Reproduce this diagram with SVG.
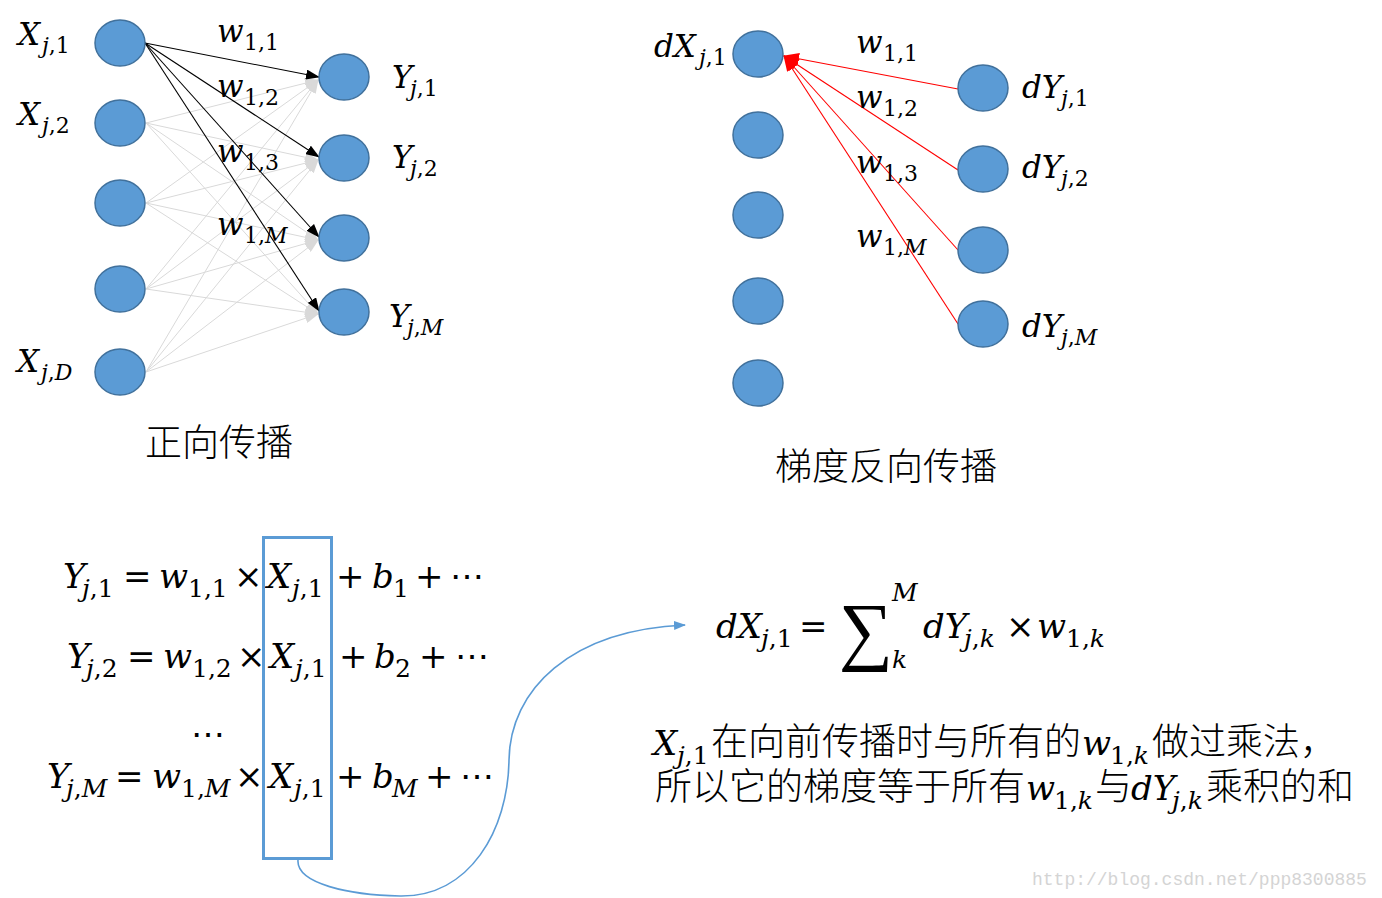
<svg xmlns="http://www.w3.org/2000/svg" width="1382" height="898" viewBox="0 0 1382 898">
<style>
.nd{fill:#5b9bd5;stroke:#41719c;stroke-width:1.5}
.mt{font-family:"DejaVu Serif","Liberation Serif",serif;font-size:34px;fill:#000}
.ml{font-family:"DejaVu Serif","Liberation Serif",serif;font-size:31px;fill:#000}
.it{font-style:italic}
.sb{font-size:25px}
.sl{font-size:22px}
.cj{font-family:"Noto Sans CJK SC","Noto Sans",sans-serif;font-size:37px;font-weight:300;fill:#000}
.bk{stroke:#000;stroke-width:1.1;fill:none;marker-end:url(#ab)}
.gy{stroke:#d9d9d9;stroke-width:1;fill:none;marker-end:url(#ag)}
.rd{stroke:#ff0000;stroke-width:1.1;fill:none;marker-end:url(#ar)}
.bl{stroke:#5b9bd5;stroke-width:1.6;fill:none}
.wm{font-family:"Liberation Mono",monospace;font-size:18px;fill:#d4d4d4}
</style>
<defs>
<marker id="ab" markerUnits="userSpaceOnUse" markerWidth="14" markerHeight="10" refX="13" refY="5" orient="auto"><path d="M0,0 L14,5 L0,10 z" fill="#000"/></marker>
<marker id="ag" markerUnits="userSpaceOnUse" markerWidth="14" markerHeight="10" refX="13" refY="5" orient="auto"><path d="M0,0 L14,5 L0,10 z" fill="#d9d9d9"/></marker>
<marker id="ar" markerUnits="userSpaceOnUse" markerWidth="16" markerHeight="12" refX="15" refY="6" orient="auto"><path d="M0,0 L16,6 L0,12 z" fill="#ff0000"/></marker>
<marker id="abl" markerUnits="userSpaceOnUse" markerWidth="12" markerHeight="9" refX="11" refY="4.5" orient="auto"><path d="M0,0 L12,4.5 L0,9 z" fill="#5b9bd5"/></marker>
</defs>

<g id="connectors">
<g>
<path class="gy" d="M146,123 L318,80"/><path class="gy" d="M146,123 L318,160"/><path class="gy" d="M146,123 L318,240"/><path class="gy" d="M146,123 L318,314"/>
<path class="gy" d="M146,203 L318,80"/><path class="gy" d="M146,203 L318,160"/><path class="gy" d="M146,203 L318,240"/><path class="gy" d="M146,203 L318,314"/>
<path class="gy" d="M146,289 L318,80"/><path class="gy" d="M146,289 L318,160"/><path class="gy" d="M146,289 L318,240"/><path class="gy" d="M146,289 L318,314"/>
<path class="gy" d="M146,372 L318,80"/><path class="gy" d="M146,372 L318,160"/><path class="gy" d="M146,372 L318,240"/><path class="gy" d="M146,372 L318,314"/>
</g>
<path class="bk" d="M145,43 L319,77"/>
<path class="bk" d="M145,43 L319,157"/>
<path class="bk" d="M145,43 L319,237"/>
<path class="bk" d="M145,43 L319,311"/>
<path class="rd" d="M958,89 L784,56"/>
<path class="rd" d="M958,170 L784,56"/>
<path class="rd" d="M958,250 L784,56"/>
<path class="rd" d="M958,324 L784,56"/>
<path class="bl" marker-end="url(#abl)" d="M298,860 C296,884 350,895 400,896 C470,897 508,830 509,760 C510,690 570,630 685,625"/>
</g>

<g id="fx1"><ellipse class="nd" cx="120" cy="43" rx="25" ry="23"/>
<text class="ml"><tspan class="it" x="18" y="45">X</tspan><tspan class="sl" x="42" y="53"><tspan class="it">j</tspan>,1</tspan></text></g>
<g id="fx2"><ellipse class="nd" cx="120" cy="123" rx="25" ry="23"/>
<text class="ml"><tspan class="it" x="18" y="125">X</tspan><tspan class="sl" x="42" y="133"><tspan class="it">j</tspan>,2</tspan></text></g>
<g id="fx3"><ellipse class="nd" cx="120" cy="203" rx="25" ry="23"/></g>
<g id="fx4"><ellipse class="nd" cx="120" cy="289" rx="25" ry="23"/></g>
<g id="fx5"><ellipse class="nd" cx="120" cy="372" rx="25" ry="23"/>
<text class="ml"><tspan class="it" x="17" y="372">X</tspan><tspan class="sl" x="41" y="380"><tspan class="it">j</tspan>,<tspan class="it">D</tspan></tspan></text></g>
<g id="fy1"><ellipse class="nd" cx="344" cy="77" rx="25" ry="23"/>
<text class="ml"><tspan class="it" x="392" y="88">Y</tspan><tspan class="sl" x="410" y="96"><tspan class="it">j</tspan>,1</tspan></text></g>
<g id="fy2"><ellipse class="nd" cx="344" cy="158" rx="25" ry="23"/>
<text class="ml"><tspan class="it" x="392" y="168">Y</tspan><tspan class="sl" x="410" y="176"><tspan class="it">j</tspan>,2</tspan></text></g>
<g id="fy3"><ellipse class="nd" cx="344" cy="238" rx="25" ry="23"/></g>
<g id="fy4"><ellipse class="nd" cx="344" cy="312" rx="25" ry="23"/>
<text class="ml"><tspan class="it" x="389" y="327">Y</tspan><tspan class="sl" x="407" y="335"><tspan class="it">j</tspan>,<tspan class="it">M</tspan></tspan></text></g>

<g id="fw-labels">
<text class="ml"><tspan class="it" x="217" y="42">w</tspan><tspan class="sl" x="244" y="50">1,1</tspan></text>
<text class="ml"><tspan class="it" x="217" y="97">w</tspan><tspan class="sl" x="244" y="105">1,2</tspan></text>
<text class="ml"><tspan class="it" x="217" y="162">w</tspan><tspan class="sl" x="244" y="170">1,3</tspan></text>
<text class="ml"><tspan class="it" x="217" y="235">w</tspan><tspan class="sl" x="244" y="243">1,<tspan class="it">M</tspan></tspan></text>
</g>
<text class="cj" x="145" y="456">正向传播</text>

<g id="bx1"><ellipse class="nd" cx="758" cy="54" rx="25" ry="23"/>
<text class="ml"><tspan class="it" x="654" y="57">dX</tspan><tspan class="sl" x="699" y="65"><tspan class="it">j</tspan>,1</tspan></text></g>
<g id="bx2"><ellipse class="nd" cx="758" cy="135" rx="25" ry="23"/></g>
<g id="bx3"><ellipse class="nd" cx="758" cy="215" rx="25" ry="23"/></g>
<g id="bx4"><ellipse class="nd" cx="758" cy="301" rx="25" ry="23"/></g>
<g id="bx5"><ellipse class="nd" cx="758" cy="383" rx="25" ry="23"/></g>
<g id="by1"><ellipse class="nd" cx="983" cy="88" rx="25" ry="23"/>
<text class="ml"><tspan class="it" x="1022" y="98">dY</tspan><tspan class="sl" x="1061" y="106"><tspan class="it">j</tspan>,1</tspan></text></g>
<g id="by2"><ellipse class="nd" cx="983" cy="169" rx="25" ry="23"/>
<text class="ml"><tspan class="it" x="1022" y="178">dY</tspan><tspan class="sl" x="1061" y="186"><tspan class="it">j</tspan>,2</tspan></text></g>
<g id="by3"><ellipse class="nd" cx="983" cy="250" rx="25" ry="23"/></g>
<g id="by4"><ellipse class="nd" cx="983" cy="324" rx="25" ry="23"/>
<text class="ml"><tspan class="it" x="1022" y="337">dY</tspan><tspan class="sl" x="1061" y="345"><tspan class="it">j</tspan>,<tspan class="it">M</tspan></tspan></text></g>
<g id="bw-labels">
<text class="ml"><tspan class="it" x="856" y="53">w</tspan><tspan class="sl" x="883" y="61">1,1</tspan></text>
<text class="ml"><tspan class="it" x="856" y="108">w</tspan><tspan class="sl" x="883" y="116">1,2</tspan></text>
<text class="ml"><tspan class="it" x="856" y="173">w</tspan><tspan class="sl" x="883" y="181">1,3</tspan></text>
<text class="ml"><tspan class="it" x="856" y="247">w</tspan><tspan class="sl" x="883" y="255">1,<tspan class="it">M</tspan></tspan></text>
</g>
<text class="cj" x="775" y="480">梯度反向传播</text>

<g id="eqs">
<text class="mt"><tspan class="it" x="63" y="588">Y</tspan><tspan class="sb" x="82" y="597"><tspan class="it">j</tspan>,1</tspan><tspan x="123" y="588">=</tspan><tspan class="it" x="159" y="588">w</tspan><tspan class="sb" x="188" y="597">1,1</tspan><tspan x="234" y="588">×</tspan><tspan class="it" x="267" y="588">X</tspan><tspan class="sb" x="292" y="597"><tspan class="it">j</tspan>,1</tspan><tspan x="336" y="588">+</tspan><tspan class="it" x="372" y="588">b</tspan><tspan class="sb" x="393" y="597">1</tspan><tspan x="415" y="588">+</tspan><tspan x="450" y="588">⋯</tspan></text>
<text class="mt"><tspan class="it" x="67" y="668">Y</tspan><tspan class="sb" x="86" y="677"><tspan class="it">j</tspan>,2</tspan><tspan x="127" y="668">=</tspan><tspan class="it" x="163" y="668">w</tspan><tspan class="sb" x="192" y="677">1,2</tspan><tspan x="237" y="668">×</tspan><tspan class="it" x="270" y="668">X</tspan><tspan class="sb" x="295" y="677"><tspan class="it">j</tspan>,1</tspan><tspan x="339" y="668">+</tspan><tspan class="it" x="374" y="668">b</tspan><tspan class="sb" x="395" y="677">2</tspan><tspan x="419" y="668">+</tspan><tspan x="455" y="668">⋯</tspan></text>
<text class="mt" x="191" y="746">⋯</text>
<text class="mt"><tspan class="it" x="47" y="788">Y</tspan><tspan class="sb" x="66" y="797"><tspan class="it">j</tspan>,<tspan class="it">M</tspan></tspan><tspan x="115" y="788">=</tspan><tspan class="it" x="152" y="788">w</tspan><tspan class="sb" x="181" y="797">1,<tspan class="it">M</tspan></tspan><tspan x="235" y="788">×</tspan><tspan class="it" x="269" y="788">X</tspan><tspan class="sb" x="294" y="797"><tspan class="it">j</tspan>,1</tspan><tspan x="336" y="788">+</tspan><tspan class="it" x="372" y="788">b</tspan><tspan class="sb" x="392" y="797"><tspan class="it">M</tspan></tspan><tspan x="425" y="788">+</tspan><tspan x="460" y="788">⋯</tspan></text>
<rect x="263.5" y="537.5" width="68" height="321" fill="none" stroke="#5b9bd5" stroke-width="3"/>
</g>

<g id="eq-back">
<text class="mt"><tspan class="it" x="716" y="638">dX</tspan><tspan class="sb" x="761" y="647"><tspan class="it">j</tspan>,1</tspan><tspan x="799" y="638">=</tspan></text>
<text x="866" y="656" text-anchor="middle" font-family="Liberation Serif, serif" font-size="76">∑</text>
<text class="mt"><tspan class="sb it" x="892" y="601">M</tspan><tspan class="sb it" x="892" y="668">k</tspan><tspan class="it" x="923" y="638">dY</tspan><tspan class="sb" x="964" y="647"><tspan class="it">j</tspan>,<tspan class="it">k</tspan></tspan><tspan x="1006" y="638">×</tspan><tspan class="it" x="1037" y="638">w</tspan><tspan class="sb" x="1066" y="647">1,<tspan class="it">k</tspan></tspan></text>
</g>

<g id="note">
<text class="mt"><tspan class="it" x="653" y="755">X</tspan><tspan class="sb" x="677" y="764"><tspan class="it">j</tspan>,1</tspan></text>
<text class="cj" x="711" y="755">在向前传播时与所有的</text>
<text class="mt"><tspan class="it" x="1082" y="755">w</tspan><tspan class="sb" x="1110" y="764">1,<tspan class="it">k</tspan></tspan></text>
<text class="cj" x="1152" y="755">做过乘法，</text>
<text class="cj" x="655" y="800">所以它的梯度等于所有</text>
<text class="mt"><tspan class="it" x="1026" y="800">w</tspan><tspan class="sb" x="1054" y="809">1,<tspan class="it">k</tspan></tspan></text>
<text class="cj" x="1095" y="800">与</text>
<text class="mt"><tspan class="it" x="1131" y="800">dY</tspan><tspan class="sb" x="1172" y="809"><tspan class="it">j</tspan>,<tspan class="it">k</tspan></tspan></text>
<text class="cj" x="1206" y="800">乘积的和</text>
</g>

<text class="wm" x="1032" y="885">http://blog.csdn.net/ppp8300885</text>
</svg>
